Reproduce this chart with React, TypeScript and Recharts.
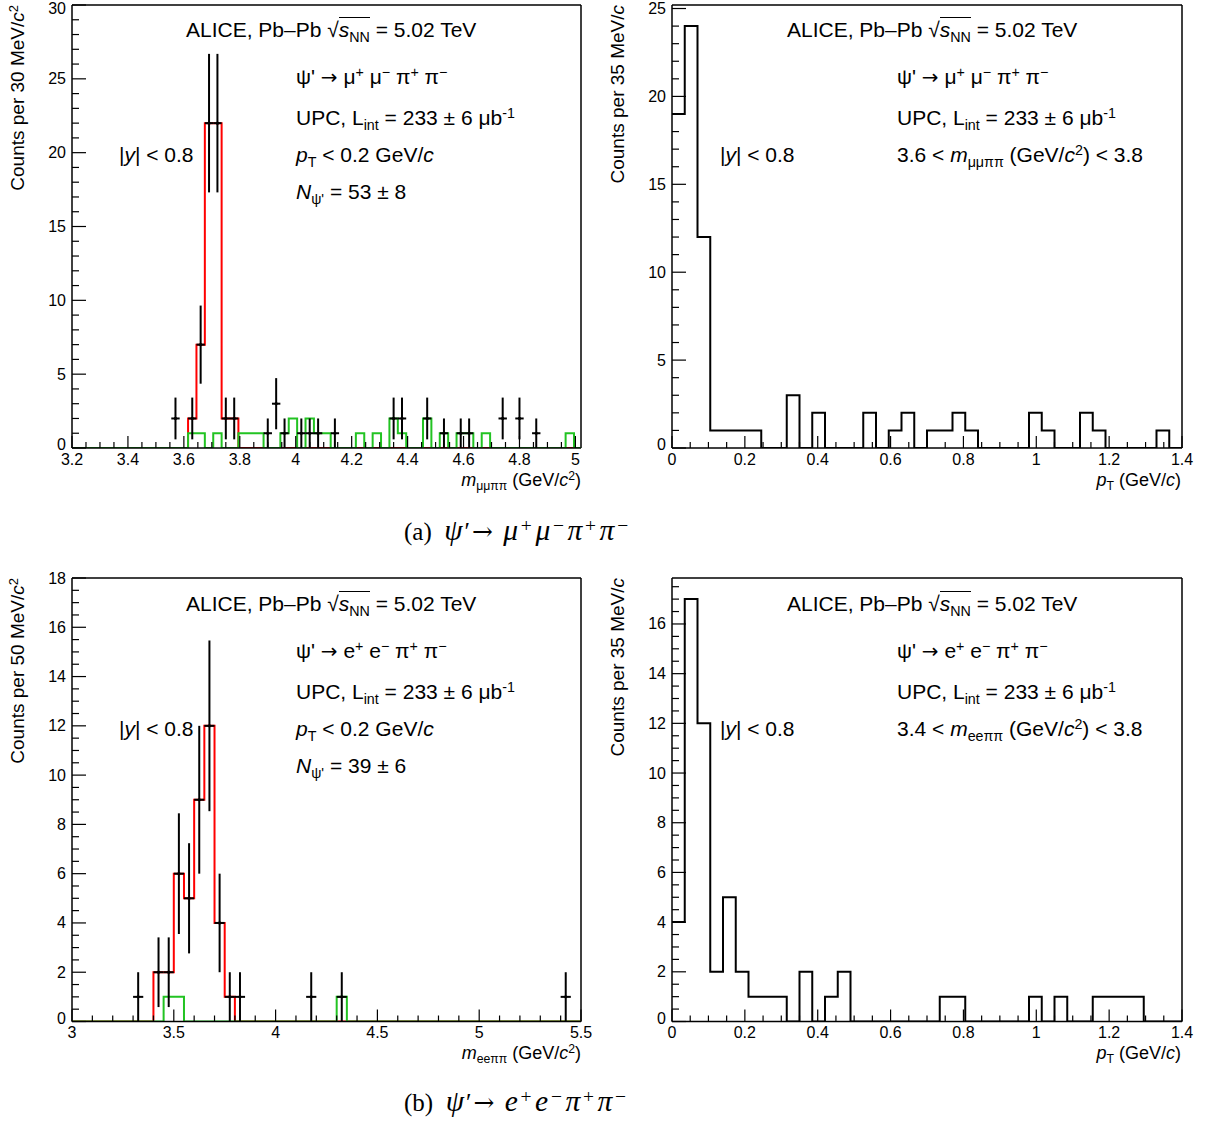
import React from "react";
import { ComposedChart, Line, Scatter, ErrorBar, XAxis, YAxis, ReferenceLine } from "recharts";

const SANS = '"Liberation Sans", Arial, Helvetica, sans-serif';
const SERIF = '"Liberation Serif", "Times New Roman", serif';
const RED = "#ff0000";
const GREEN = "#22c322";

// (a) m_μμππ, 30 MeV/c² bins, first low edge 3.195
const mumuBinStart = 3.195;
const mumuBinWidth = 0.03;
const mumuSignal = [
  0, 0, 0, 0, 0, 0, 0, 0, 0, 0,
  0, 0, 0, 0, 2, 7, 22, 22, 2, 2,
  0, 0, 0, 0, 0, 0, 0, 0, 0, 0,
  0, 0, 0, 0, 0, 0, 0, 0, 0, 0,
  0, 0, 0, 0, 0, 0, 0, 0, 0, 0,
  0, 0, 0, 0, 0, 0, 0, 0, 0, 0,
  0,
];
const mumuBackground = [
  0, 0, 0, 0, 0, 0, 0, 0, 0, 0,
  0, 0, 0, 0, 1, 1, 0, 1, 0, 0,
  1, 1, 1, 0, 0, 1, 2, 0, 2, 1,
  1, 0, 0, 0, 1, 0, 1, 0, 2, 1,
  0, 0, 2, 0, 1, 0, 1, 1, 0, 1,
  0, 0, 0, 0, 0, 0, 0, 0, 0, 1,
  0,
];
const mumuDataX = [3.57, 3.63, 3.66, 3.69, 3.72, 3.75, 3.78, 3.9, 3.93, 3.96, 4.02, 4.05, 4.08, 4.14, 4.35, 4.38, 4.47, 4.53, 4.59, 4.62, 4.74, 4.8, 4.86];
const mumuDataN = [2, 2, 7, 22, 22, 2, 2, 1, 3, 1, 1, 1, 1, 1, 2, 2, 2, 1, 1, 1, 2, 2, 1];

// (a) pT, 35 MeV/c bins from 0
const ptBinWidth = 0.035;
const mumuPt = [19, 24, 12, 1, 1, 1, 1, 0, 0, 3, 0, 2, 0, 0, 0, 2, 0, 1, 2, 0, 1, 1, 2, 1, 0, 0, 0, 0, 2, 1, 0, 0, 2, 1, 0, 0, 0, 0, 1, 0];

// (b) m_eeππ, 50 MeV/c² bins from 3.0
const eeBinStart = 3.0;
const eeBinWidth = 0.05;
const eeSignal = [
  0, 0, 0, 0, 0, 0, 0, 0, 2, 2,
  6, 5, 9, 12, 4, 1, 0, 0, 0, 0,
  0, 0, 0, 0, 0, 0, 0, 0, 0, 0,
  0, 0, 0, 0, 0, 0, 0, 0, 0, 0,
  0, 0, 0, 0, 0, 0, 0, 0, 0, 0,
];
const eeBackground = [
  0, 0, 0, 0, 0, 0, 0, 0, 0, 1,
  1, 0, 0, 0, 0, 0, 0, 0, 0, 0,
  0, 0, 0, 0, 0, 0, 1, 0, 0, 0,
  0, 0, 0, 0, 0, 0, 0, 0, 0, 0,
  0, 0, 0, 0, 0, 0, 0, 0, 0, 0,
];
const eeDataX = [3.325, 3.425, 3.475, 3.525, 3.575, 3.625, 3.675, 3.725, 3.775, 3.825, 4.175, 4.325, 5.425];
const eeDataN = [1, 2, 2, 6, 5, 9, 12, 4, 1, 1, 1, 1, 1];

// (b) pT
const eePt = [4, 17, 12, 2, 5, 2, 1, 1, 1, 0, 2, 0, 1, 2, 0, 0, 0, 0, 0, 0, 0, 1, 1, 0, 0, 0, 0, 0, 1, 0, 1, 0, 0, 1, 1, 1, 1, 0, 0, 0];

// axis tick labels
const mumuMassTicks = [3.2, 3.4, 3.6, 3.8, 4, 4.2, 4.4, 4.6, 4.8, 5];
const eeMassTicks = [3, 3.5, 4, 4.5, 5, 5.5];
const ptTicks = [0, 0.2, 0.4, 0.6, 0.8, 1, 1.2, 1.4];
const countsA = [0, 5, 10, 15, 20, 25, 30];
const countsPtA = [0, 5, 10, 15, 20, 25];
const countsB = [0, 2, 4, 6, 8, 10, 12, 14, 16, 18];
const countsPtB = [0, 2, 4, 6, 8, 10, 12, 14, 16];

function steps(start: number, width: number, counts: number[]) {
  const pts = counts.map((c, i) => ({ x: start + i * width, y: c }));
  pts.push({ x: start + counts.length * width, y: counts[counts.length - 1] });
  return pts;
}

function points(xs: number[], ns: number[], width: number) {
  return xs.map((x, i) => ({ x, y: ns[i], ey: Math.sqrt(ns[i]), ex: width / 2 }));
}

function range(lo: number, hi: number, step: number) {
  const out: number[] = [];
  const n = Math.round((hi - lo) / step);
  for (let i = 0; i <= n; i++) out.push(Math.round((lo + i * step) * 1000) / 1000);
  return out;
}

const fmt = (v: number) => String(Number(v.toFixed(2)));
const isIn = (arr: number[], v: number) => arr.some((m) => Math.abs(m - v) < 1e-6);

type Box = { left: number; top: number; width: number; height: number; l: number; t: number; r: number; b: number };

type PanelProps = {
  box: Box;
  xDomain: [number, number];
  yDomain: [number, number];
  xMajor: number[];
  xMinor: number;
  yMajor: number[];
  yMinor: number;
  hists: { data: { x: number; y: number }[]; color: string }[];
  pts?: { x: number; y: number; ey: number; ex: number }[];
};

function HistPanel({ box, xDomain, yDomain, xMajor, xMinor, yMajor, yMinor, hists, pts }: PanelProps) {
  const xTicks = range(xMajor[0], xMajor[xMajor.length - 1], xMinor);
  const yTicks = range(0, Math.floor(yDomain[1] / yMinor) * yMinor, yMinor);
  return (
    <div style={{ position: "absolute", left: box.left, top: box.top }}>
      <ComposedChart
        width={box.width}
        height={box.height}
        margin={{
          top: box.t - box.top,
          left: box.l - box.left - 1,
          right: box.left + box.width - box.r,
          bottom: box.top + box.height - box.b - 1,
        }}
      >
        <XAxis
          type="number"
          dataKey="x"
          domain={xDomain}
          allowDataOverflow
          ticks={xTicks}
          interval={0}
          height={1}
          tickSize={0}
          tickMargin={0}
          tickLine={false}
          axisLine={{ stroke: "#000", strokeWidth: 1.5 }}
          tick={(p: any) => {
            const major = isIn(xMajor, p.payload.value);
            return (
              <g key={`xt-${p.payload.value}`}>
                <line x1={p.x} x2={p.x} y1={p.y} y2={p.y - (major ? 12 : 6)} stroke="#000" strokeWidth={1.2} />
                {major && (
                  <text x={p.x} y={p.y + 16.5} textAnchor="middle" fontSize={16} fontFamily={SANS} fill="#000">
                    {fmt(p.payload.value)}
                  </text>
                )}
              </g>
            );
          }}
        />
        <YAxis
          type="number"
          domain={yDomain}
          allowDataOverflow
          ticks={yTicks}
          interval={0}
          width={1}
          tickSize={0}
          tickMargin={0}
          tickLine={false}
          axisLine={{ stroke: "#000", strokeWidth: 1.5 }}
          tick={(p: any) => {
            const v = p.payload.value;
            const major = isIn(yMajor, v);
            // zero label sits a little higher, the topmost one is kept inside the page
            const ty = v === 0 ? p.y + 2 : Math.max(p.y + 5.5, 14);
            return (
              <g key={`yt-${v}`}>
                <line x1={p.x} x2={p.x + (major ? 14 : 7)} y1={p.y} y2={p.y} stroke="#000" strokeWidth={1.2} />
                {major && (
                  <text x={p.x - 6} y={ty} textAnchor="end" fontSize={16} fontFamily={SANS} fill="#000">
                    {fmt(v)}
                  </text>
                )}
              </g>
            );
          }}
        />
        <ReferenceLine x={xDomain[1]} stroke="#000" strokeWidth={1.5} />
        <ReferenceLine y={yDomain[1]} stroke="#000" strokeWidth={1.5} />
        {hists.map((h, i) => (
          <Line
            key={i}
            data={h.data}
            dataKey="y"
            type="stepAfter"
            stroke={h.color}
            strokeWidth={2}
            dot={false}
            activeDot={false}
            isAnimationActive={false}
          />
        ))}
        {pts && (
          <Scatter
            data={pts}
            dataKey="y"
            fill="#000"
            isAnimationActive={false}
            shape={(p: any) => <circle cx={p.cx} cy={p.cy} r={1.6} fill="#000" />}
          >
            <ErrorBar dataKey="ey" direction="y" width={0} stroke="#000" strokeWidth={2} />
            <ErrorBar dataKey="ex" direction="x" width={0} stroke="#000" strokeWidth={2} />
          </Scatter>
        )}
      </ComposedChart>
    </div>
  );
}

const Sub = ({ children }: { children: React.ReactNode }) => (
  <span style={{ fontSize: "0.68em", position: "relative", top: "0.32em" }}>{children}</span>
);
const Sup = ({ children }: { children: React.ReactNode }) => (
  <span style={{ fontSize: "0.68em", position: "relative", top: "-0.5em" }}>{children}</span>
);
const Arrow = () => <span style={{ fontFamily: '"DejaVu Sans"', fontSize: "0.95em" }}>→</span>;

function Txt({ x, y, size = 21, children }: { x: number; y: number; size?: number; children: React.ReactNode }) {
  return (
    <div style={{ position: "absolute", left: x, top: y, fontSize: size, fontFamily: SANS, lineHeight: 1, whiteSpace: "nowrap", color: "#000" }}>
      {children}
    </div>
  );
}

// right-aligned text whose right end sits at x
function TxtR({ x, y, size = 18, children }: { x: number; y: number; size?: number; children: React.ReactNode }) {
  return (
    <div style={{ position: "absolute", right: 1207 - x, top: y, fontSize: size, fontFamily: SANS, lineHeight: 1, whiteSpace: "nowrap", color: "#000" }}>
      {children}
    </div>
  );
}

// vertical axis title, its end at (x, y)
function YTitle({ x, y, children }: { x: number; y: number; children: React.ReactNode }) {
  return (
    <div
      style={{
        position: "absolute",
        right: 1207 - x,
        top: y - 10,
        height: 20,
        fontSize: 19,
        lineHeight: "20px",
        fontFamily: SANS,
        whiteSpace: "nowrap",
        transformOrigin: "right center",
        transform: "rotate(-90deg)",
        color: "#000",
      }}
    >
      {children}
    </div>
  );
}

const Root = () => (
  <>
    √<span style={{ borderTop: "1.5px solid #000" }}><i>s</i><Sub>NN</Sub></span>
  </>
);

function Header({ dx, dy, decay, last }: { dx: number; dy: number; decay: React.ReactNode; last?: React.ReactNode }) {
  return (
    <>
      <Txt x={186 + dx} y={19 + dy}>ALICE, Pb–Pb <Root /> = 5.02 TeV</Txt>
      <Txt x={296 + dx} y={66 + dy}>{decay}</Txt>
      <Txt x={296 + dx} y={107 + dy}>UPC, L<Sub>int</Sub> = 233 ± 6 μb<Sup>-1</Sup></Txt>
      <Txt x={119 + dx} y={144 + dy}>|<i>y</i>| &lt; 0.8</Txt>
      {last}
    </>
  );
}

const muDecay = (
  <>ψ' <Arrow /> μ<Sup>+</Sup> μ<Sup>−</Sup> π<Sup>+</Sup> π<Sup>−</Sup></>
);
const eDecay = (
  <>ψ' <Arrow /> e<Sup>+</Sup> e<Sup>−</Sup> π<Sup>+</Sup> π<Sup>−</Sup></>
);

const CapSup = ({ children }: { children: React.ReactNode }) => (
  <span style={{ fontSize: "0.78em", position: "relative", top: "-0.42em", padding: "0 0.08em 0 0.04em" }}>{children}</span>
);
const M = ({ children }: { children: React.ReactNode }) => (
  <i style={{ fontSize: "1.18em" }}>{children}</i>
);

function Caption({ y, label, lep }: { y: number; label: string; lep: string }) {
  return (
    <div style={{ position: "absolute", left: 404, top: y, fontSize: 25, fontFamily: SERIF, lineHeight: 1, whiteSpace: "nowrap", color: "#000" }}>
      ({label})&nbsp;&nbsp;
      <span style={{ letterSpacing: "0.08em" }}>
        <M>ψ</M>′<span style={{ fontFamily: '"DejaVu Serif"', fontSize: "1em" }}>→</span>{" "}
        <M>{lep}</M><CapSup>+</CapSup><M>{lep}</M><CapSup>−</CapSup><M>π</M><CapSup>+</CapSup><M>π</M><CapSup>−</CapSup>
      </span>
    </div>
  );
}

export default function App() {
  const boxTL: Box = { left: 0, top: 0, width: 600, height: 500, l: 72, t: 5, r: 581, b: 448 };
  const boxTR: Box = { left: 600, top: 0, width: 607, height: 500, l: 672, t: 5, r: 1182, b: 448 };
  const boxBL: Box = { left: 0, top: 560, width: 600, height: 520, l: 72, t: 578, r: 581, b: 1021.5 };
  const boxBR: Box = { left: 600, top: 560, width: 607, height: 520, l: 672, t: 578, r: 1182, b: 1021.5 };

  return (
    <div style={{ position: "absolute", left: 0, top: 0, width: 1207, height: 1124, background: "#fff", overflow: "hidden" }}>
      <HistPanel
        box={boxTL}
        xDomain={[3.2, 5.02]}
        yDomain={[0, 30]}
        xMajor={mumuMassTicks}
        xMinor={0.05}
        yMajor={countsA}
        yMinor={1}
        hists={[
          { data: steps(mumuBinStart, mumuBinWidth, mumuSignal), color: RED },
          { data: steps(mumuBinStart, mumuBinWidth, mumuBackground), color: GREEN },
        ]}
        pts={points(mumuDataX, mumuDataN, mumuBinWidth)}
      />
      <HistPanel
        box={boxTR}
        xDomain={[0, 1.4]}
        yDomain={[0, 25.2]}
        xMajor={ptTicks}
        xMinor={0.05}
        yMajor={countsPtA}
        yMinor={1}
        hists={[{ data: steps(0, ptBinWidth, mumuPt), color: "#000" }]}
      />
      <HistPanel
        box={boxBL}
        xDomain={[3, 5.5]}
        yDomain={[0, 18]}
        xMajor={eeMassTicks}
        xMinor={0.1}
        yMajor={countsB}
        yMinor={0.5}
        hists={[
          { data: steps(eeBinStart, eeBinWidth, eeSignal), color: RED },
          { data: steps(eeBinStart, eeBinWidth, eeBackground), color: GREEN },
        ]}
        pts={points(eeDataX, eeDataN, eeBinWidth)}
      />
      <HistPanel
        box={boxBR}
        xDomain={[0, 1.4]}
        yDomain={[0, 17.85]}
        xMajor={ptTicks}
        xMinor={0.05}
        yMajor={countsPtB}
        yMinor={0.5}
        hists={[{ data: steps(0, ptBinWidth, eePt), color: "#000" }]}
      />

      <Header
        dx={0}
        dy={0}
        decay={muDecay}
        last={
          <>
            <Txt x={296} y={144}><i>p</i><Sub>T</Sub> &lt; 0.2 GeV/<i>c</i></Txt>
            <Txt x={296} y={181}><i>N</i><Sub>ψ'</Sub> = 53 ± 8</Txt>
          </>
        }
      />
      <Header
        dx={601}
        dy={0}
        decay={muDecay}
        last={<Txt x={897} y={144}>3.6 &lt; <i>m</i><Sub>μμππ</Sub> (GeV/<i>c</i><Sup>2</Sup>) &lt; 3.8</Txt>}
      />
      <Header
        dx={0}
        dy={574}
        decay={eDecay}
        last={
          <>
            <Txt x={296} y={718}><i>p</i><Sub>T</Sub> &lt; 0.2 GeV/<i>c</i></Txt>
            <Txt x={296} y={755}><i>N</i><Sub>ψ'</Sub> = 39 ± 6</Txt>
          </>
        }
      />
      <Header
        dx={601}
        dy={574}
        decay={eDecay}
        last={<Txt x={897} y={718}>3.4 &lt; <i>m</i><Sub>eeππ</Sub> (GeV/<i>c</i><Sup>2</Sup>) &lt; 3.8</Txt>}
      />

      <YTitle x={18} y={5}>Counts per 30 MeV/<i>c</i><Sup>2</Sup></YTitle>
      <YTitle x={618} y={5}>Counts per 35 MeV/<i>c</i></YTitle>
      <YTitle x={18} y={578}>Counts per 50 MeV/<i>c</i><Sup>2</Sup></YTitle>
      <YTitle x={618} y={578}>Counts per 35 MeV/<i>c</i></YTitle>
      <TxtR x={581} y={471}><i>m</i><Sub>μμππ</Sub> (GeV/<i>c</i><Sup>2</Sup>)</TxtR>
      <TxtR x={1181} y={471}><i>p</i><Sub>T</Sub> (GeV/<i>c</i>)</TxtR>
      <TxtR x={581} y={1044}><i>m</i><Sub>eeππ</Sub> (GeV/<i>c</i><Sup>2</Sup>)</TxtR>
      <TxtR x={1181} y={1044}><i>p</i><Sub>T</Sub> (GeV/<i>c</i>)</TxtR>

      <Caption y={516} label="a" lep="μ" />
      <Caption y={1087} label="b" lep="e" />
    </div>
  );
}
